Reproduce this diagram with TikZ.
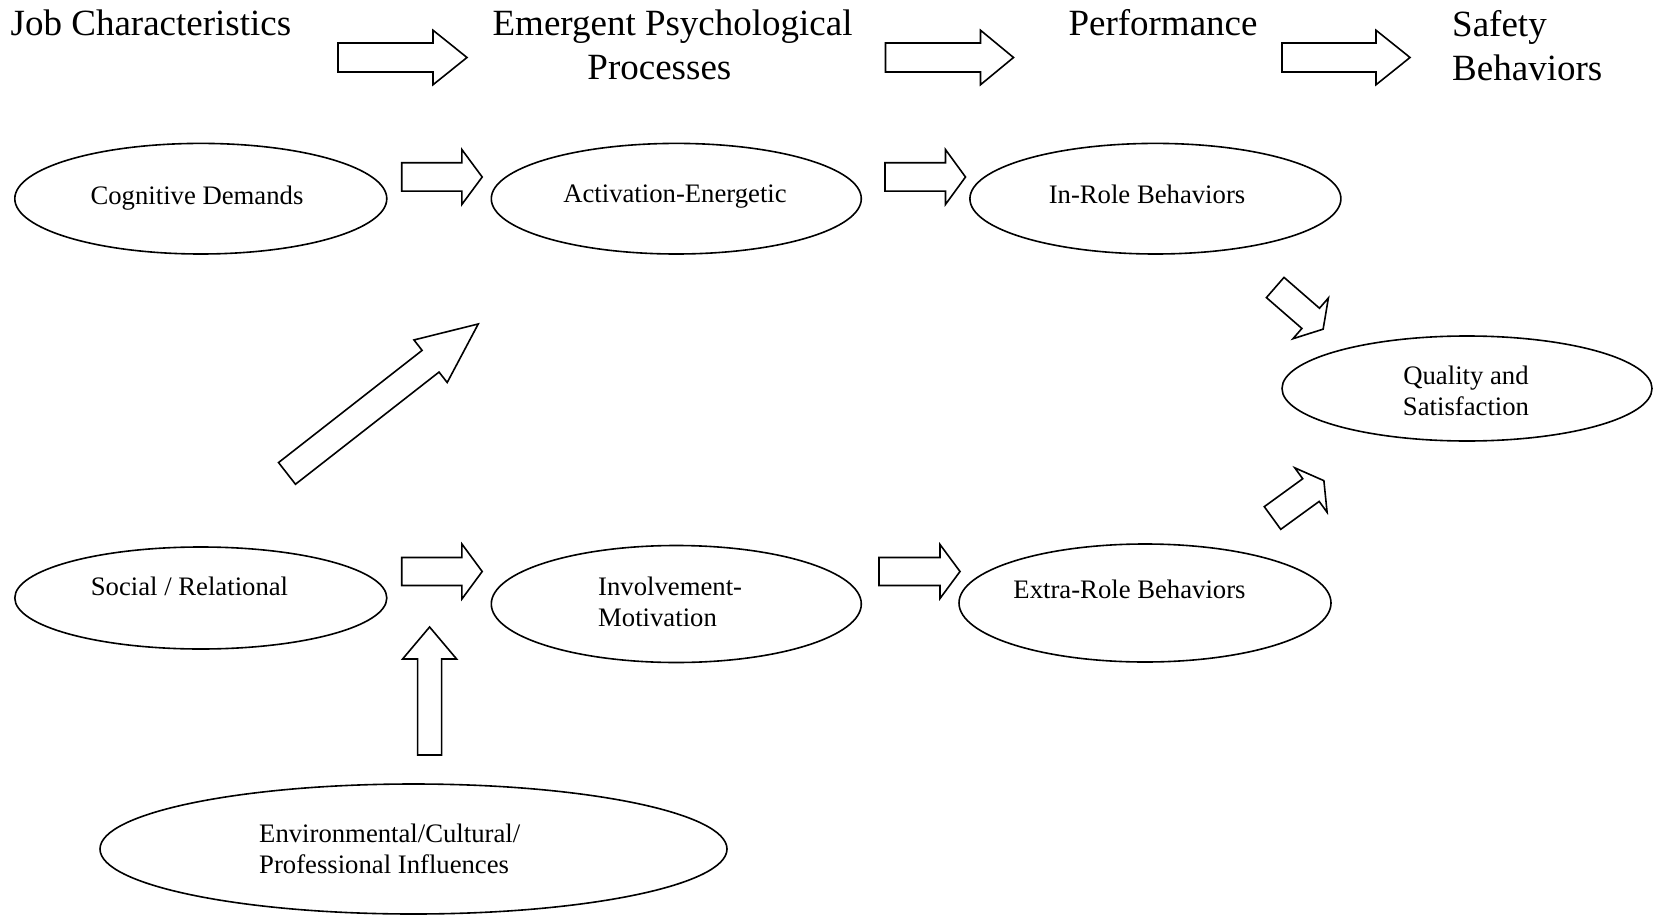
\documentclass[tikz,border=0pt]{standalone}
\usepackage{fontspec}
\setmainfont{Liberation Serif}
\usetikzlibrary{shapes.geometric}
% #1 x, #2 y of tail centre, #3 angle, #4 length, #5 body half width, #6 head half width, #7 head length
\newcommand{\blockarrow}[7]{%
  \draw[blk, shift={(#1,#2)}, rotate=#3]
    (0,-#5) -- ({#4-#7},-#5) -- ({#4-#7},-#6) -- (#4,0) -- ({#4-#7},#6) -- ({#4-#7},#5) -- (0,#5) -- cycle;}
\begin{document}
\begin{tikzpicture}[x=1pt,y=-1pt,
  ell/.style={draw, ellipse, line width=1.6pt, inner sep=0pt, outer sep=0pt},
  etext/.style={font=\fontsize{26.7}{30.6}\selectfont, inner sep=0pt},
  ttext/.style={font=\fontsize{37}{44.4}\selectfont, inner sep=0pt},
  blk/.style={draw, line width=1.6pt, line join=miter, fill=white}]
\useasboundingbox (0,0) rectangle (1653,917);
\fill[white] (0,0) rectangle (1653,917);

% column titles
\node[ttext, anchor=base west] (jc) at (10.5,35.5) {Job Characteristics};
\node[ttext, anchor=base] (epp) at (672.6,35.5) {Emergent Psychological};
\node[ttext, anchor=base] (epp2) at (659.4,79.9) {Processes};
\node[ttext, anchor=base] (perf) at (1163,35.5) {Performance};
\node[ttext, anchor=north west, align=left] (sb) at (1452,10.2) {Safety\\Behaviors};

% title arrows
\blockarrow{338}{57.5}{0}{129}{14.5}{27.25}{34}
\blockarrow{885.5}{57.5}{0}{128}{14.5}{27.25}{33}
\blockarrow{1282}{57.5}{0}{128}{14.5}{27.25}{34}

% ellipses
\node[ell, minimum width=372pt, minimum height=110.6pt] (cog) at (200.8,198.7) {};
\node[ell, minimum width=370pt, minimum height=110.6pt] (act) at (676.3,198.7) {};
\node[ell, minimum width=371pt, minimum height=110.6pt] (inrole) at (1155.4,198.7) {};
\node[ell, minimum width=370pt, minimum height=105pt] (qual) at (1467,388.5) {};
\node[ell, minimum width=372pt, minimum height=102pt] (soc) at (200.8,598) {};
\node[ell, minimum width=370pt, minimum height=117pt] (inv) at (676.3,604) {};
\node[ell, minimum width=372pt, minimum height=118pt] (extra) at (1145,603) {};
\node[ell, minimum width=627pt, minimum height=130pt] (env) at (413.5,849) {};

% ellipse texts
\node[etext, anchor=base] (cogT) at (197,205) {Cognitive Demands};
\node[etext, anchor=base] (actT) at (675,203) {Activation-Energetic};
\node[etext, anchor=base] (inroleT) at (1147,204) {In-Role Behaviors};
\node[etext, anchor=north, align=center] (qualT) at (1466,365.8) {Quality and\\Satisfaction};
\node[etext, anchor=base] (socT) at (189.5,595) {Social / Relational};
\node[etext, anchor=north west, align=left] (invT) at (598,576.8) {Involvement-\\Motivation};
\node[etext, anchor=base] (extraT) at (1129.5,598) {Extra-Role Behaviors};
\node[etext, anchor=north west, align=left] (envT) at (259,823.8) {Environmental/Cultural/\\Professional Influences};

% block arrows between ellipses
\blockarrow{401.7}{177}{0}{80.5}{14.2}{27.4}{20.3}
\blockarrow{885}{177}{0}{80.5}{14.2}{27.4}{20}
\blockarrow{401.7}{571.5}{0}{80.5}{14}{27.5}{20.3}
\blockarrow{879}{571.5}{0}{81}{14}{27}{20}
\blockarrow{429.6}{755}{90}{128}{12}{27}{32}
\blockarrow{287}{473.4}{38}{242.7}{13.75}{27}{60.5}
\blockarrow{1275.2}{287.5}{-41}{63.5}{13.4}{27}{16.5}
\blockarrow{1272.5}{518}{36}{63.5}{14}{27.5}{16}
\end{tikzpicture}
\end{document}
